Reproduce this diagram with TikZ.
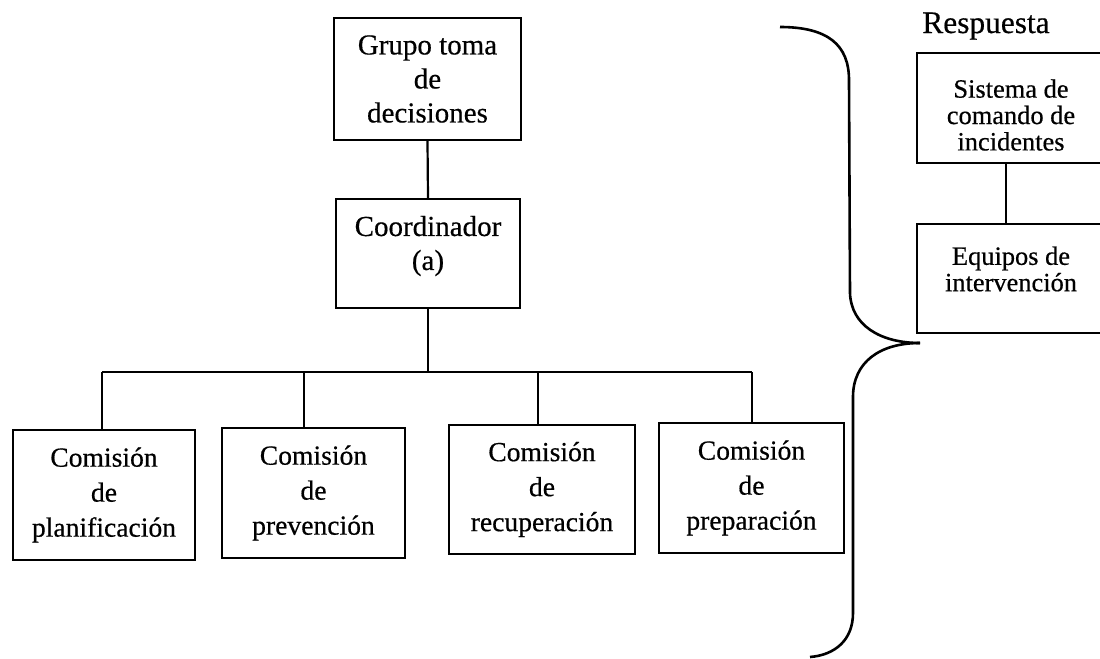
\documentclass[tikz,border=0pt]{standalone}
\usepackage{fontspec}
\setmainfont{Liberation Serif}[FakeBold=0.5]
\begin{document}
\begin{tikzpicture}[x=0.5pt,y=-0.5pt,
  box/.style={draw, line width=1.1pt, inner sep=0pt},
  txt/.style={align=center, inner sep=0pt},
  ttop/.style={txt, font=\fontsize{14.5pt}{17pt}\selectfont},
  tbot/.style={txt, font=\fontsize{13.8pt}{17.5pt}\selectfont},
  tright/.style={txt, font=\fontsize{13.2pt}{13.2pt}\selectfont},
  wire/.style={line width=1.1pt},
  bracestyle/.style={line width=1.3pt}]
\path[use as bounding box, clip] (0,0) rectangle (1100,659);
% top column
\node[box, ttop, minimum width=93.5pt, minimum height=61pt] (g) at (427.5,79) {Grupo toma\\de\\decisiones};
\node[box, minimum width=92pt, minimum height=54.5pt] (c) at (428,253.5) {};
\node[ttop, yshift=3.75pt] (ct) at (c.center) {Coordinador\\(a)};
% bottom row
\node[box, tbot, minimum width=91pt, minimum height=65pt] (b1) at (104,495) {Comisión\\de\\planificación};
\node[box, tbot, minimum width=91.5pt, minimum height=65pt] (b2) at (313.5,493) {Comisión\\de\\prevención};
\node[box, tbot, minimum width=93pt, minimum height=64.5pt] (b3) at (542,489.5) {Comisión\\de\\recuperación};
\node[box, tbot, minimum width=92.5pt, minimum height=65pt] (b4) at (751.5,488) {Comisión\\de\\preparación};
% connectors
\coordinate (bar) at (428,372);
\coordinate (k1) at (102,372);
\coordinate (k2) at (304,372);
\coordinate (k3) at (538,372);
\coordinate (k4) at (752,372);
\draw[wire] (g.south) -- (c.north);
\draw[wire] (c.south) -- (bar);
\draw[wire] (k1) -- (k4);
\draw[wire] (k1) -- (k1 |- b1.north);
\draw[wire] (k2) -- (k2 |- b2.north);
\draw[wire] (k3) -- (k3 |- b3.north);
\draw[wire] (k4) -- (k4 |- b4.north);
% right side
\node[font=\fontsize{15.7pt}{18pt}\selectfont, inner sep=0pt, anchor=base] (resp) at (986,33) {Respuesta};
\node[box, minimum width=94pt, minimum height=55pt] (s) at (1011,108) {};
\node[tright, yshift=-3.5pt] (st) at (s.center) {Sistema de\\comando de\\incidentes};
\node[box, minimum width=94pt, minimum height=54.5pt] (e) at (1011,278.5) {};
\node[tright, yshift=4.75pt] (et) at (e.center) {Equipos de\\intervención};
\coordinate (rc) at (1006,0);
\draw[wire] (s.south -| rc) -- (e.north -| rc);
% brace
\draw[bracestyle] (780,27) .. controls (828,27) and (849,45) .. (849,80)
  -- (850,293) .. controls (851,325) and (880,343) .. (920,343);
\draw[bracestyle] (920,343) .. controls (880,343) and (853,362) .. (853,397)
  -- (853,613) .. controls (853,640) and (835,655) .. (810,657);
\end{tikzpicture}
\end{document}
